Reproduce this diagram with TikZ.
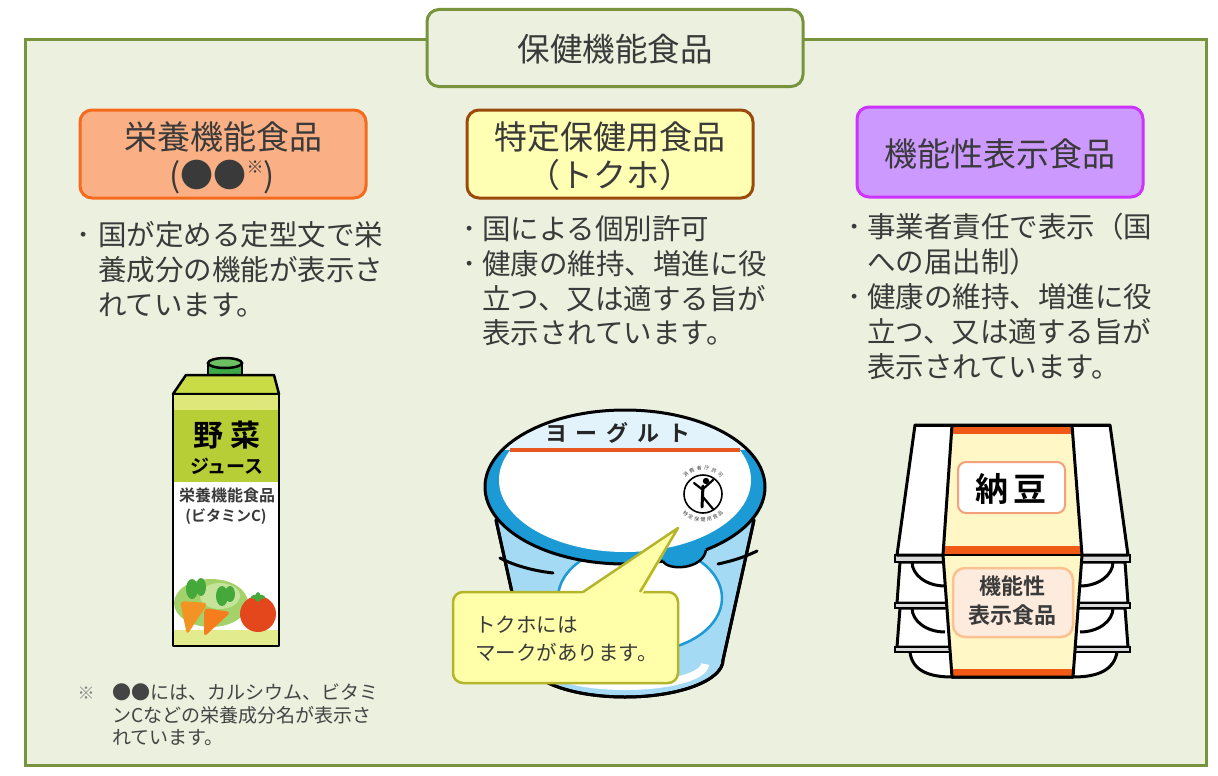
\documentclass[tikz,border=0pt]{standalone}
\usepackage{fontspec}
\usetikzlibrary{calc}
\setmainfont{Noto Sans CJK JP}
\newfontfamily\jpb{Noto Sans CJK JP}[UprightFont=* Bold]
\newfontfamily\jpbsp{Noto Sans CJK JP}[UprightFont=* Bold,LetterSpace=40]
\definecolor{frame}{HTML}{77933C}
\definecolor{bg}{HTML}{EBF1DE}
\definecolor{txtc}{HTML}{3A3A3A}
\definecolor{fnc}{HTML}{444444}
\definecolor{hAf}{HTML}{FAB084}
\definecolor{hAd}{HTML}{F66A1E}
\definecolor{hBf}{HTML}{FFFFB4}
\definecolor{hBd}{HTML}{9A4A0A}
\definecolor{hCf}{HTML}{CC99FF}
\definecolor{hCd}{HTML}{CC33FF}
\definecolor{gable}{HTML}{C9DB45}
\definecolor{jstrip}{HTML}{DDE77A}
\definecolor{jband}{HTML}{B8CE36}
\definecolor{jbot}{HTML}{E2EB8E}
\definecolor{capd}{HTML}{3DA846}
\definecolor{capl}{HTML}{6CC062}
\definecolor{cabbage}{HTML}{A3D16A}
\definecolor{cabbagel}{HTML}{C6E39A}
\definecolor{leaf}{HTML}{45A83A}
\definecolor{carrot}{HTML}{F39323}
\definecolor{tomato}{HTML}{E5471D}
\definecolor{lidblue}{HTML}{1B9AD5}
\definecolor{pale}{HTML}{E3F3FB}
\definecolor{cupblue}{HTML}{A5DAF4}
\definecolor{lidorange}{HTML}{E9561F}
\definecolor{balf}{HTML}{FFFFAA}
\definecolor{bald}{HTML}{B5B52C}
\definecolor{bandc}{HTML}{FFF8C6}
\definecolor{norange}{HTML}{F05A14}
\definecolor{rimc}{HTML}{D8D8D8}
\definecolor{nattob}{HTML}{F4A07A}
\definecolor{kinf}{HTML}{FDEBDD}
\definecolor{kind}{HTML}{FCC190}
\tikzset{
  ln/.style={anchor=base west, inner sep=0, text=txtc, font=\fontsize{28.5}{28.5}\selectfont},
  bul/.style={anchor=base, inner sep=0, text=txtc, font=\fontsize{28.5}{28.5}\selectfont},
  hbox/.style={rounded corners=12, line width=3, minimum width=286, minimum height=88, inner sep=0},
  htxt/.style={anchor=base, inner sep=0, text=txtc, font=\fontsize{33}{33}\selectfont},
  fn/.style={anchor=base west, inner sep=0, text=fnc, font=\fontsize{19}{19}\selectfont},
  blk/.style={line width=3, draw=black, line join=round},
  bt/.style={inner sep=0, text=black},
}
\begin{document}
\begin{tikzpicture}[x=1pt,y=-1pt]
\useasboundingbox (0,0) rectangle (1218,776);
\fill[white] (0,0) rectangle (1218,776);
% main frame
\draw[line width=3, draw=frame, fill=bg] (25,40) rectangle (1206,765);
\node[draw=frame, fill=bg, line width=3, rounded corners=12, minimum width=376, minimum height=77, inner sep=0] (titlebox) at (615,48) {};
\node[anchor=base, inner sep=0, text=txtc, font=\fontsize{32.5}{32.5}\selectfont] (title) at (615,62) {保健機能食品};

% headers
\node[hbox, draw=hAd, fill=hAf] (hA) at (223,154) {};
\node[htxt] (hAt1) at (223,149) {栄養機能食品};
\node[htxt] (hAt2) at (222,187) {(●●\raisebox{0.42em}{\fontsize{17}{17}\selectfont ※})};
\node[hbox, draw=hBd, fill=hBf] (hB) at (610,154) {};
\node[htxt] (hBt1) at (610,149) {特定保健用食品};
\node[htxt] (hBt2) at (610,187) {（トクホ）};
\node[hbox, draw=hCd, fill=hCf, minimum height=90] (hC) at (1000,152) {};
\node[htxt] (hCt) at (1000,166) {機能性表示食品};

% column 1 text
\node[bul] (b11) at (84,245.5) {･};
\node[ln] (c11) at (98,245.5) {国が定める定型文で栄};
\node[ln] (c12) at (98,280.5) {養成分の機能が表示さ};
\node[ln] (c13) at (98,315.5) {れています。};
% column 2 text
\node[bul] (b21) at (470,239.5) {･};
\node[ln] (c21) at (482,239.5) {国による個別許可};
\node[bul] (b22) at (470,274.5) {･};
\node[ln] (c22) at (482,274.5) {健康の維持、増進に役};
\node[ln] (c23) at (482,309.5) {立つ、又は適する旨が};
\node[ln] (c24) at (482,343.5) {表示されています。};
% column 3 text
\node[bul] (b31) at (855,237.5) {･};
\node[ln] (c31) at (867,237.5) {事業者責任で表示（国};
\node[ln] (c32) at (867,272.5) {への届出制）};
\node[bul] (b32) at (855,307.5) {･};
\node[ln] (c33) at (867,307.5) {健康の維持、増進に役};
\node[ln] (c34) at (867,342.5) {立つ、又は適する旨が};
\node[ln] (c35) at (867,377.5) {表示されています。};

% ===== juice carton =====
\draw[line width=2.5, fill=capd] (208,363) -- (208,378) -- (242,378) -- (242,363);
\draw[line width=2.5, fill=capl] (225,363) ellipse (17 and 5);
\draw[blk, line width=2.5, fill=gable] (186,375) -- (274,375) -- (279,394) -- (173,394) -- cycle;
\fill[jstrip] (173,394) rectangle (279,410);
\fill[jband] (173,410) rectangle (279,482);
\fill[white] (173,482) rectangle (279,630);
\fill[jbot] (173,630) rectangle (279,646);
% vegetables
\fill[cabbage] (211,603) ellipse (37 and 24);
\fill[cabbagel] (220,596) ellipse (20 and 13);
\fill[leaf] (192,589) ellipse (6 and 10);
\fill[leaf] (201,587) ellipse (5 and 9);
\fill[leaf] (222,596) ellipse (6 and 10);
\fill[leaf] (230,594) ellipse (5 and 8);
\fill[carrot, rounded corners=4] (180,601) -- (208,603) -- (187,635) -- cycle;
\fill[carrot!85!red, rounded corners=4] (204,608) -- (231,612) -- (204,637) -- cycle;
\fill[tomato] (258,614) circle (18);
\fill[leaf] (258,597) ellipse (7 and 2.5);
\fill[leaf] (258,597) ellipse (2.5 and 5);
\draw[blk, line width=2.5] (173,394) rectangle (279,646);
\node[bt, font=\jpb\fontsize{30}{30}\selectfont] (yasai) at (227,435) {野\hspace{8pt}菜};
\node[bt, font=\jpb\fontsize{19}{19}\selectfont] (juice) at (227,466) {ジュース};
\node[bt, text=txtc, font=\jpb\fontsize{16}{16}\selectfont] (eiyo) at (227,495) {栄養機能食品};
\node[bt, text=txtc, font=\jpb\fontsize{15}{15}\selectfont] (vitc) at (226,517) {(ビタミンC)};

% ===== yogurt cup =====
\draw[blk, fill=cupblue] (496,520) -- (527,660) arc[start angle=180, end angle=0, x radius=98, y radius=37] -- (754,520) -- cycle;
\begin{scope}
  \clip (496,520) -- (527,660) arc[start angle=180, end angle=0, x radius=98, y radius=37] -- (754,520) -- cycle;
  \draw[draw=white, line width=8] (545,664) arc[start angle=180, end angle=0, x radius=80, y radius=22];
  \draw[fill=white, draw=lidblue, line width=2.5] (640,598) ellipse (82 and 54);
\end{scope}
\draw[blk] (496,520) -- (527,660) arc[start angle=180, end angle=0, x radius=98, y radius=37] -- (754,520);
\draw[blk, line cap=round] (500,558) .. controls (515,566) and (535,571) .. (553,573);
\draw[blk, line cap=round] (718,564) .. controls (732,561) and (745,557) .. (757,551);
% lid
\fill[lidblue] (625,487) ellipse (140 and 77);
\fill[white] (625,480) ellipse (126 and 72);
\begin{scope}
  \clip (625,487) ellipse (140 and 77);
  \fill[pale] (480,400) rectangle (770,450);
\end{scope}
\draw[lidorange, line width=4] (510,450) -- (740,450);
\draw[blk] (625,487) ellipse (140 and 77);
\fill[lidblue] (663,556) -- (663,561) .. controls (667,571) and (703,570) .. (706,550) -- (704,546) -- cycle;
\draw[blk, line width=2.5] (663,561) .. controls (667,571) and (703,570) .. (706,550);
\node[anchor=base west, inner sep=0, text=black!85, font=\jpbsp\fontsize{22}{22}\selectfont] (yog) at (545,441) {ヨーグルト};
% tokuho mark
\draw[line width=1.6] (703,494) circle (19);
\fill (706,481) circle (3.2);
\draw[line width=3, line cap=round] (703,486) -- (702,507);
\draw[line width=2.2, line cap=round] (703,489) -- (713,480);
\draw[line width=2.2, line cap=round] (703,490) -- (694,483);
\draw[line width=2.2, line cap=round] (703,497) -- (713,509);
\foreach \c [count=\i] in {消,費,者,庁,許,可}
  \node[inner sep=0, text=txtc, font=\fontsize{5}{5}\selectfont, rotate={270-(228+(\i-1)*16.8)}] (mt\i) at ($(703,494)+({228+(\i-1)*16.8}:26)$) {\c};
\foreach \c [count=\i] in {特,定,保,健,用,食,品}
  \node[inner sep=0, text=txtc, font=\fontsize{5}{5}\selectfont, rotate={90-(132-(\i-1)*14)}] (mb\i) at ($(703,494)+({132-(\i-1)*14}:26)$) {\c};
% balloon
\draw[line width=2.5, draw=bald, fill=balf, rounded corners=10] (453,592) rectangle (678,683);
\fill[balf] (581,594.5) -- (678,528) -- (642,594.5) -- cycle;
\draw[line width=2.5, draw=bald, line join=round] (583,592) -- (678,528) -- (640,592);
\node[anchor=base west, inner sep=0, text=txtc, font=\fontsize{20.5}{20.5}\selectfont] (bal1) at (475,632.5) {トクホには};
\node[anchor=base west, inner sep=0, text=txtc, font=\fontsize{20.5}{20.5}\selectfont] (bal2) at (475,660.5) {マークがあります。};

% ===== natto =====
\draw[blk, fill=white] (910,652) .. controls (912,670) and (928,677) .. (952,677) -- (1073,677) .. controls (1098,677) and (1114,670) .. (1117,652);
\foreach \ya/\yb in {608/647, 562/603} {
  \draw[blk, fill=white] (900,\ya) -- (1125,\ya) -- (1128,\yb) -- (897,\yb) -- cycle;
  \draw[blk] (912,\ya) arc[start angle=180, end angle=90, x radius=33, y radius=24];
  \draw[blk] (1113,\ya) arc[start angle=0, end angle=90, x radius=33, y radius=24];
  \draw[line width=2.5, fill=rimc] (895,\yb) rectangle (1130,\yb+5);
}
\draw[line width=2.5, fill=rimc] (895,555) rectangle (1130,562);
\draw[blk, fill=white] (915,425) -- (1110,425) -- (1128,555) -- (897,555) -- cycle;
% band
\fill[bandc] (952,425) -- (1072,425) -- (1082,555) -- (943,555) -- cycle;
\fill[bandc] (943,555) -- (1082,555) -- (1073,677) -- (952,677) -- cycle;
\begin{scope}
  \clip (952,425) -- (1072,425) -- (1082,555) -- (1073,677) -- (952,677) -- (943,555) -- cycle;
  \fill[norange] (930,425) rectangle (1100,434);
  \fill[norange] (930,546) rectangle (1100,554);
  \fill[norange] (930,669) rectangle (1100,677);
\end{scope}
\draw[blk] (952,425) -- (943,555) -- (952,677) -- (1073,677) -- (1082,555) -- (1072,425);
\draw[blk] (915,425) -- (1110,425);
\draw[line width=2.5] (943,555) -- (1082,555);
\node[draw=nattob, fill=white, line width=2, rounded corners=8, minimum width=107, minimum height=51, inner sep=0] (nbox) at (1011.5,487.5) {};
\node[bt, font=\jpb\fontsize{33}{33}\selectfont] (natto) at (1011,489) {納\hspace{6pt}豆};
\node[draw=kind, fill=kinf, line width=2.5, rounded corners=12, minimum width=120, minimum height=69, inner sep=0] (kbox) at (1013,602.5) {};
\node[bt, text=txtc, font=\jpb\fontsize{22}{22}\selectfont] (k1) at (1012,586) {機能性};
\node[bt, text=txtc, font=\jpb\fontsize{22}{22}\selectfont] (k2) at (1012,615) {表示食品};

% footnote
\node[anchor=base, inner sep=0, text=gray, font=\fontsize{17}{17}\selectfont] (fnmark) at (86,699) {※};
\node[fn] (fn1) at (112,699) {●●には、カルシウム、ビタミ};
\node[fn] (fn2) at (112,722) {ンCなどの栄養成分名が表示さ};
\node[fn] (fn3) at (112,744) {れています。};
\end{tikzpicture}
\end{document}
